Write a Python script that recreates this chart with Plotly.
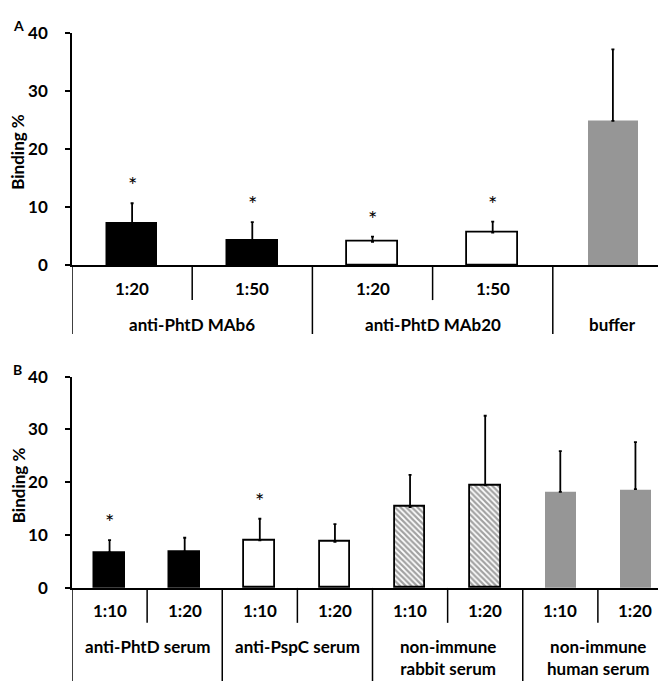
import plotly.graph_objects as go

# ---------------- data ----------------
# Panel A
a_groups = ["anti-PhtD MAb6", "anti-PhtD MAb6", "anti-PhtD MAb20", "anti-PhtD MAb20", "buffer"]
a_dilutions = ["1:20", "1:50", "1:20", "1:50", ""]
a_means = [7.1, 4.15, 4.0, 5.6, 24.8]
a_errors = [3.55, 3.25, 0.9, 1.9, 12.3]
a_sig = [True, True, True, True, False]
a_styles = ["black", "black", "white", "white", "gray"]

# Panel B
b_groups = ["anti-PhtD serum", "anti-PhtD serum", "anti-PspC serum", "anti-PspC serum",
            "non-immune<br>rabbit serum", "non-immune<br>rabbit serum",
            "non-immune<br>human serum", "non-immune<br>human serum"]
b_dilutions = ["1:10", "1:20", "1:10", "1:20", "1:10", "1:20", "1:10", "1:20"]
b_means = [6.75, 6.85, 9.0, 8.75, 15.3, 19.4, 18.2, 18.7]
b_errors = [2.3, 2.65, 4.1, 3.35, 6.1, 13.2, 7.7, 8.9]
b_sig = [True, False, True, False, False, False, False, False]
b_styles = ["black", "black", "white", "white", "hatch", "hatch", "gray", "gray"]

y_ticks = [0, 10, 20, 30, 40]
y_title = "Binding %"

# ---------------- layout helpers ----------------
W, H = 666, 683
FONT = "Lato"
FS = 17
BLACK = "#000000"
GRAY = "#969696"


def px_x(x):
    return x / W


def px_y(y):
    return 1 - y / H


STYLE = {
    "black": dict(fill=BLACK, line=BLACK, lw=1.5, shape=""),
    "white": dict(fill="#ffffff", line=BLACK, lw=1.8, shape=""),
    "hatch": dict(fill="#ffffff", line=BLACK, lw=1.8, shape="\\"),
    "gray": dict(fill=GRAY, line=GRAY, lw=0, shape=""),
}


def bar_trace(means, errors, styles, xa, ya, width):
    n = len(means)
    return go.Bar(
        x=list(range(n)), y=means, xaxis=xa, yaxis=ya, width=width,
        marker=dict(
            color=[STYLE[s]["fill"] for s in styles],
            line=dict(color=[STYLE[s]["line"] for s in styles],
                      width=[STYLE[s]["lw"] for s in styles]),
            pattern=dict(shape=[STYLE[s]["shape"] for s in styles],
                         fgcolor=BLACK, bgcolor="#ffffff", size=4, solidity=0.55),
        ),
        error_y=dict(type="data", symmetric=False, array=errors, arrayminus=[0] * n,
                     color=BLACK, thickness=1.8, width=1.5),
        showlegend=False, hoverinfo="skip",
    )


fig = go.Figure()
fig.add_trace(bar_trace(a_means, a_errors, a_styles, "x", "y", 0.42))
fig.add_trace(bar_trace(b_means, b_errors, b_styles, "x2", "y2", 0.41))

shapes = []
annotations = []

bold = dict(family=FONT, size=FS, color=BLACK, weight="bold")

panels = [
    # (xaxis, yaxis, groups, dilutions, means, errors, sig, y-domain px,
    #  sub label y, group label y, short line end, long line end, panel letter, letter y)
    ("x", "y", a_groups, a_dilutions, a_means, a_errors, a_sig,
     (254, 14), 278, 314, 290, 325, "A", 7),
    ("x2", "y2", b_groups, b_dilutions, b_means, b_errors, b_sig,
     (587, 369), 610, 647, 623, 683, "B", 362),
]

for (xa, ya, groups, dils, means, errs, sig, yd, sub_y, grp_y,
     short_end, long_end, letter, letter_y) in panels:
    n = len(means)
    base = yd[0]
    # separators
    for i in range(n + 1):
        xpos = i - 0.5
        if i == 0 or i == n or groups[i] != groups[i - 1]:
            end = long_end
        else:
            end = short_end
        shapes.append(dict(type="line", xref=xa, yref="paper", x0=xpos, x1=xpos,
                           y0=px_y(base), y1=px_y(end),
                           line=dict(color=BLACK, width=1.5)))
    # sub labels
    for i, d in enumerate(dils):
        if d:
            annotations.append(dict(xref=xa, yref="paper", x=i, y=px_y(sub_y), text=d,
                                    showarrow=False, xanchor="center", yanchor="middle",
                                    font=bold))
    # group labels
    seen = []
    for g in groups:
        if g not in seen:
            seen.append(g)
    for g in seen:
        idx = [i for i, gg in enumerate(groups) if gg == g]
        xc = (idx[0] + idx[-1]) / 2
        annotations.append(dict(xref=xa, yref="paper", x=xc, y=px_y(grp_y - 12), text=g,
                                showarrow=False, xanchor="center", yanchor="top",
                                font=bold))
    # stars
    for i in range(n):
        if sig[i]:
            annotations.append(dict(xref=xa, yref=ya, x=i, y=means[i] + errs[i], text="*",
                                    showarrow=False, xanchor="center", yanchor="bottom",
                                    yshift=3, font=dict(family=FONT, size=22, color=BLACK)))
    # y title
    annotations.append(dict(xref="paper", yref="paper", x=px_x(10),
                            y=px_y((yd[0] + yd[1]) / 2 + 3), text=y_title, textangle=-90,
                            showarrow=False, xanchor="center", yanchor="middle",
                            font=bold))
    # panel letter
    annotations.append(dict(xref="paper", yref="paper", x=px_x(3), y=px_y(letter_y),
                            text=letter, showarrow=False, xanchor="left", yanchor="middle",
                            font=dict(family=FONT, size=14, color=BLACK, weight="bold")))

axis_common_y = dict(range=[0, 40], tickvals=y_ticks, showline=True, linecolor=BLACK,
                     linewidth=1.5, ticks="outside", ticklen=5, tickwidth=1.5,
                     tickcolor=BLACK, showgrid=False, zeroline=False,
                     ticklabelstandoff=14,
                     tickfont=bold)
axis_common_x = dict(showline=True, linecolor=BLACK, linewidth=1.5, ticks="",
                     showticklabels=False, showgrid=False, zeroline=False)

fig.update_layout(
    width=W, height=H,
    margin=dict(l=0, r=0, t=0, b=0),
    paper_bgcolor="white", plot_bgcolor="white",
    xaxis=dict(domain=[px_x(64), px_x(665)], range=[-0.5, len(a_means) - 0.5],
               anchor="y", **axis_common_x),
    yaxis=dict(domain=[px_y(254), px_y(14)], anchor="x", **axis_common_y),
    xaxis2=dict(domain=[px_x(64), px_x(665)], range=[-0.5, len(b_means) - 0.5],
                anchor="y2", **axis_common_x),
    yaxis2=dict(domain=[px_y(587), px_y(369)], anchor="x2", **axis_common_y),
    shapes=shapes,
    annotations=annotations,
    bargap=0,
)

fig.write_html("out.html")
